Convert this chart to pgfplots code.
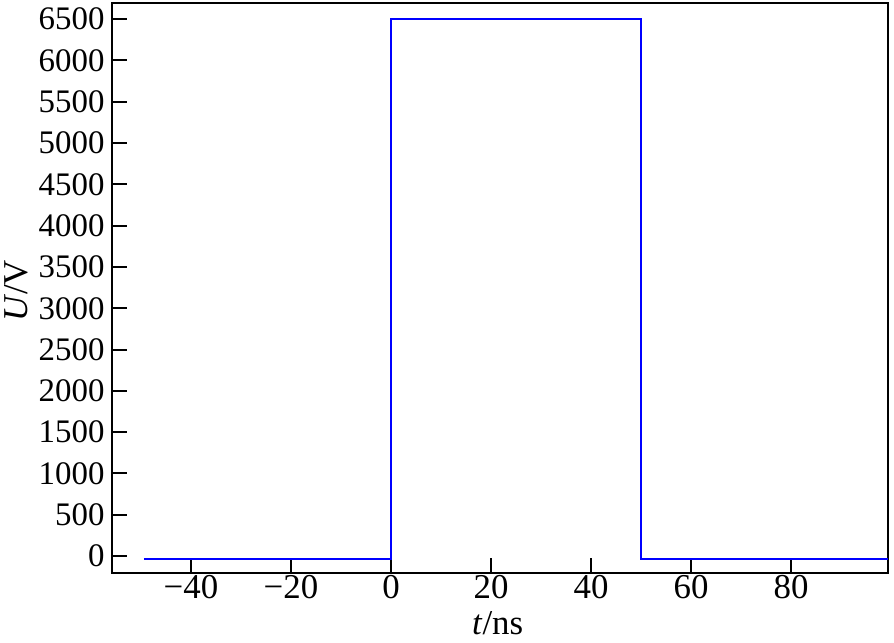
\documentclass[border=0pt]{standalone}
\usepackage{fontspec}
\setmainfont{Liberation Serif}
\usepackage{pgfplots}
\pgfplotsset{compat=1.18}
\begin{document}
\begin{tikzpicture}
\begin{axis}[
	name=ax,
	scale only axis,
	width=776bp, height=570bp,
	xmin=-55.8, xmax=99.4,
	ymin=-205, ymax=6695,
	axis line style={line width=2.6bp},
	tick pos=left, tick align=inside,
	major tick length=15bp,
	every tick/.style={black, line width=2bp},
	xtick={-40,-20,0,20,40,60,80},
	xticklabels={−40,−20,0,20,40,60,80},
	ytick={0,500,...,6500},
	/pgf/number format/assume math mode=true,
	/pgf/number format/1000 sep={},
	xticklabel style={font=\fontsize{35}{40}\selectfont, yshift=1bp},
	yticklabel style={font=\fontsize{33}{38}\selectfont, xshift=-4bp},
	clip=false,
]
	\addplot[blue, line width=2.2bp] coordinates {
		(-49.4,-40) (0,-40) (0,6500) (50,6500) (50,-40) (99.4,-40)
	};
	\node[anchor=base, font=\fontsize{35}{40}\selectfont]
		at ([yshift=-61bp]rel axis cs:0.497,0) {\textit{t}/ns};
	\node[anchor=base, rotate=90, font=\fontsize{35}{40}\selectfont]
		at ([xshift=-84bp]rel axis cs:0,0.495) {\textit{U}/V};
\end{axis}
\pgfresetboundingbox
\path[use as bounding box] ([shift={(-112bp,-70bp)}]ax.south west)
	rectangle ([shift={(6bp,3bp)}]ax.north east);
\end{tikzpicture}
\end{document}
